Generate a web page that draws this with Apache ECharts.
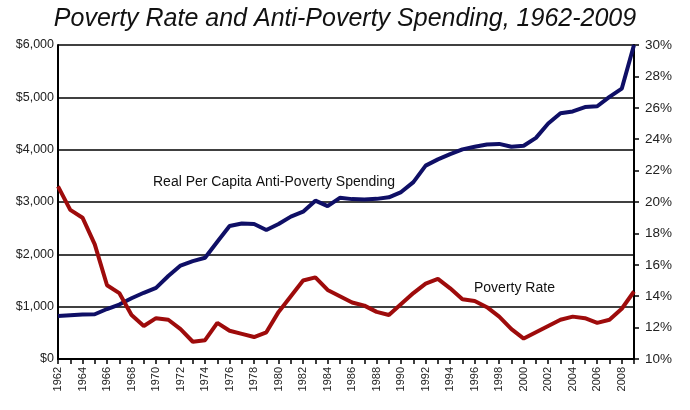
<!DOCTYPE html>
<html>
<head>
<meta charset="utf-8">
<script src="https://cdn.jsdelivr.net/npm/echarts@6/dist/echarts.min.js"></script>
<style>
  html, body { margin: 0; padding: 0; background: #fff; }
  #chart { width: 690px; height: 410px; }
</style>
</head>
<body>
<div id="chart"></div>
<script>
const years = [];
for (let y = 1962; y <= 2009; y++) years.push(String(y));

// real per capita anti-poverty spending, dollars
const spending = [
    820, 835, 850, 855, 955, 1040, 1160, 1265, 1360, 1585,
    1785, 1870, 1935, 2240, 2540, 2590, 2580, 2465, 2580, 2720,
    2815, 3025, 2920, 3080, 3055, 3050, 3060, 3090, 3190, 3380,
    3695, 3815, 3915, 4005, 4055, 4100, 4110, 4055, 4075, 4225,
    4500, 4695, 4730, 4815, 4830, 5010, 5165, 6000
];

// poverty rate, percent
const povertyRate = [
    21.0, 19.5, 19.0, 17.3, 14.7, 14.2, 12.8, 12.1, 12.6, 12.5,
    11.9, 11.1, 11.2, 12.3, 11.8, 11.6, 11.4, 11.7, 13.0, 14.0,
    15.0, 15.2, 14.4, 14.0, 13.6, 13.4, 13.0, 12.8, 13.5, 14.2,
    14.8, 15.1, 14.5, 13.8, 13.7, 13.3, 12.7, 11.9, 11.3, 11.7,
    12.1, 12.5, 12.7, 12.6, 12.3, 12.5, 13.2, 14.3
];

const chart = echarts.init(document.getElementById('chart'));
const font = 'Liberation Sans, Arial, sans-serif';

chart.setOption({
    animation: false,
    title: {
        text: 'Poverty Rate and Anti-Poverty Spending, 1962-2009',
        left: 'center',
        top: 2,
        textStyle: { fontFamily: font, fontStyle: 'italic', fontWeight: 'normal', fontSize: 25, color: '#111' }
    },
    grid: { left: 58, right: 56, top: 45, bottom: 51 },
    xAxis: {
        type: 'category',
        data: years,
        boundaryGap: false,
        axisLine: { lineStyle: { color: '#000', width: 2 } },
        axisTick: { interval: 0, length: 5, lineStyle: { color: '#000', width: 1.5 } },
        axisLabel: { interval: 1, rotate: 90, fontFamily: font, fontSize: 11, color: '#222', margin: 8 }
    },
    yAxis: [
        {
            type: 'value',
            min: 0, max: 6000, interval: 1000,
            axisLine: { show: true, lineStyle: { color: '#000', width: 2 } },
            axisTick: { show: false },
            axisLabel: {
                fontFamily: font, fontSize: 12.5, color: '#222', margin: 4,
                formatter: v => '$' + v.toLocaleString('en-US')
            },
            splitLine: { lineStyle: { color: '#000', width: 1.5 } }
        },
        {
            type: 'value',
            min: 10, max: 30, interval: 2,
            axisLine: { show: true, lineStyle: { color: '#000', width: 2 } },
            axisTick: { show: true, length: 5, lineStyle: { color: '#000', width: 1.5 } },
            axisLabel: { fontFamily: font, fontSize: 13.5, color: '#222', margin: 11, formatter: '{value}%' },
            splitLine: { show: false }
        }
    ],
    graphic: [
        {
            type: 'text', left: 153, top: 175,
            style: { text: 'Real Per Capita Anti-Poverty Spending', font: '14px ' + font, fill: '#111' }
        },
        {
            type: 'text', left: 474, top: 281,
            style: { text: 'Poverty Rate', font: '14px ' + font, fill: '#111' }
        }
    ],
    series: [
        {
            name: 'Real Per Capita Anti-Poverty Spending',
            type: 'line',
            yAxisIndex: 0,
            data: spending,
            symbol: 'none',
            lineStyle: { color: '#0f0f66', width: 4 },
            z: 3
        },
        {
            name: 'Poverty Rate',
            type: 'line',
            yAxisIndex: 1,
            data: povertyRate,
            symbol: 'none',
            lineStyle: { color: '#9e0b0b', width: 4 },
            z: 3
        }
    ]
});
</script>
</body>
</html>
